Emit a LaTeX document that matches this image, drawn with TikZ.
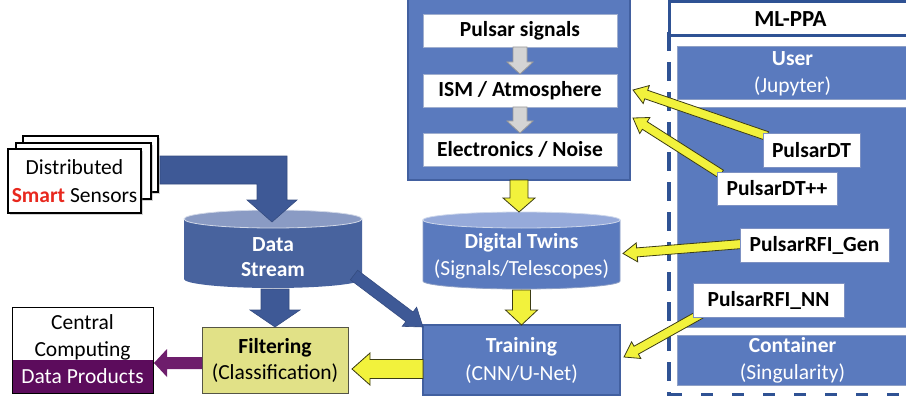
\documentclass[tikz,border=0pt]{standalone}
\usepackage{fontspec}
\setmainfont{Carlito}
\usetikzlibrary{calc,shadows}
\pgfdeclarelayer{conn}
\pgfdeclarelayer{top}
\pgfsetlayers{main,conn,top}

\definecolor{boxblue}{RGB}{90,122,190}
\definecolor{boxedge}{RGB}{66,96,160}
\definecolor{dsbody}{RGB}{72,99,158}
\definecolor{dstop}{RGB}{138,155,196}
\definecolor{dttop}{RGB}{150,170,218}
\definecolor{navyarrow}{RGB}{62,89,150}
\definecolor{arrowyellow}{RGB}{242,242,60}
\definecolor{yellowedge}{RGB}{60,60,20}
\definecolor{filtfill}{RGB}{225,225,135}
\definecolor{filtedge}{RGB}{85,85,70}
\definecolor{dpurple}{RGB}{92,12,92}
\definecolor{arrowpurple}{RGB}{110,30,108}
\definecolor{dashblue}{RGB}{47,82,148}
\definecolor{lbledge}{RGB}{125,145,195}
\definecolor{smartred}{RGB}{232,40,30}

\newcommand{\dfont}{\fontsize{21.5}{27}\selectfont}

% block arrow from #2 to #3: #4 half shaft width, #5 half head width, #6 head length
\newcommand{\blockarrow}[6]{%
  \path[#1] let \p1=($(#3)-(#2)$), \n1={atan2(\y1,\x1)} in
    ($(#2)+({\n1+90}:#4)$)
    -- ($(#3)+({\n1+180}:#6)+({\n1+90}:#4)$)
    -- ($(#3)+({\n1+180}:#6)+({\n1+90}:#5)$)
    -- (#3)
    -- ($(#3)+({\n1+180}:#6)+({\n1-90}:#5)$)
    -- ($(#3)+({\n1+180}:#6)+({\n1-90}:#4)$)
    -- ($(#2)+({\n1-90}:#4)$) -- cycle;}

\begin{document}
\begin{tikzpicture}[x=1pt,y=-1pt,
  every node/.style={font=\dfont, align=center, inner sep=0pt, outer sep=0pt},
  bluebox/.style={draw=boxedge, fill=boxblue, line width=1.2pt, text=white},
  innerbox/.style={draw=boxedge!50!white, fill=white, line width=0.8pt, font=\dfont\bfseries, minimum width=194pt, minimum height=33pt},
  lblbox/.style={draw=lbledge, fill=white, line width=0.8pt, font=\dfont\bfseries, minimum height=34pt},
  sensorbox/.style={draw=black, fill=white, line width=1.2pt, drop shadow={shadow xshift=2pt, shadow yshift=-2pt, opacity=0.35}},
  filtbox/.style={draw=filtedge, fill=filtfill, line width=1pt},
  mlbox/.style={draw=boxedge!60!white, fill=boxblue, line width=1pt, text=white, anchor=north west, minimum width=231pt},
  txtnode/.style={text=white},
  yarrow/.style={fill=arrowyellow, draw=yellowedge, line width=0.8pt, line join=miter},
  garrow/.style={fill=black!17, draw=black!40, line width=0.8pt},
  navy/.style={fill=navyarrow, draw=navyarrow!85!black, line width=0.6pt},
  parrow/.style={fill=arrowpurple},
  dashsty/.style={draw=dashblue, line width=4pt}
]
\useasboundingbox (0,0) rectangle (906,396);

% distributed sensors (stacked sheets)
\node[sensorbox, minimum width=135pt, minimum height=56pt] (sensC) at (90.5,164) {};
\node[sensorbox, minimum width=135pt, minimum height=56pt] (sensB) at (83.5,171) {};
\node[sensorbox, minimum width=133pt, minimum height=64pt, font=\fontsize{21.5}{28}\selectfont] (sensA) at (74.5,181) {Distributed\\\textcolor{smartred}{\textbf{Smart}} Sensors};

% data stream cylinder
\path[fill=dsbody] (184,219) -- (184,279) arc[start angle=180, end angle=360, x radius=89pt, y radius=9pt] -- (362,219) -- cycle;
\path[fill=dstop, draw=white!75!dsbody, line width=0.8pt] (273,219) ellipse[x radius=89pt, y radius=9pt];
\node[txtnode, minimum width=178pt, font=\fontsize{21.5}{25}\selectfont\bfseries] (ds) at (273,257.5) {Data\\Stream};

% sensors feed the data stream
\path[navy] (160,156) -- (287,156) -- (287,200) -- (297,200) -- (272,222) -- (247,200) -- (257,200) -- (257,184) -- (160,184) -- cycle;

% signal simulation chain
\node[bluebox, minimum width=222pt, minimum height=182pt] (pgrp) at (519,89) {};
\node[innerbox] (ps) at (520,30.5) {Pulsar signals};
\node[innerbox] (ism) at (520,90.5) {ISM / Atmosphere};
\node[innerbox] (elec) at (520,149.5) {Electronics / Noise};
\blockarrow{garrow}{ps.south}{ism.north}{7pt}{13pt}{12pt}
\blockarrow{garrow}{ism.south}{elec.north}{7pt}{13pt}{12pt}

% digital twins cylinder
\path[fill=boxblue, draw=boxedge!60!white, line width=0.8pt] (423,220) -- (423,281) arc[start angle=180, end angle=360, x radius=98.5pt, y radius=8pt] -- (620,220) -- cycle;
\path[fill=dttop, draw=white!70!boxblue, line width=0.8pt] (521.5,220) ellipse[x radius=98.5pt, y radius=8pt];
\node[txtnode, minimum width=197pt] (dtw) at (521.5,256.5) {\textbf{Digital Twins}\\(Signals/Telescopes)};

% training and filtering
\node[bluebox, minimum width=197pt, minimum height=70pt, font=\fontsize{21.5}{28}\selectfont] (train) at (521.5,360) {\textbf{Training}\\(CNN/U-Net)};
\node[filtbox, minimum width=146pt, minimum height=66pt, font=\fontsize{21.5}{26}\selectfont] (filt) at (275,360) {\textbf{Filtering}\\(Classification)};

% central computing
\node[draw=black, fill=white, line width=1pt, minimum width=141pt, minimum height=53pt, anchor=north west] (cc) at (12,307) {};
\node (cctext) at (82.5,337.5) {Central\\Computing};
\node[fill=dpurple, text=white, minimum width=141pt, minimum height=33pt] (dp) at (82.5,376.5) {Data Products};
\draw[line width=1pt] (cc.north west) rectangle (dp.south east);

% flow arrows
\coordinate (dtwtop) at (519,212);
\blockarrow{yarrow}{pgrp.south}{dtwtop}{9pt}{16pt}{14pt}
\coordinate (dtwbot) at (521.5,290);
\blockarrow{yarrow}{dtwbot}{train.north}{9pt}{16pt}{15pt}
\coordinate (dsbot) at (275,289);
\blockarrow{navy}{dsbot}{filt.north}{14pt}{25pt}{17pt}
\coordinate (dsside) at (354,275);
\coordinate (trainNW) at ($(train.north west)+(0,2)$);
\blockarrow{navy}{dsside}{trainNW}{6pt}{12pt}{17pt}
\coordinate (trainL) at ($(train.west)+(0,9)$);
\coordinate (filtR) at ($(filt.east)+(4,9)$);
\blockarrow{yarrow}{trainL}{filtR}{9.5pt}{16pt}{18pt}
\coordinate (filtL) at ($(filt.west)+(0,3)$);
\coordinate (ccR) at ($(dp.north east)+(1,3)$);
\blockarrow{parrow}{filtL}{ccR}{6pt}{14pt}{13pt}

% ML-PPA frame
\draw[dashsty, dash pattern=on 19pt off 11pt] (668.5,32) -- (668.5,396);
\draw[dashsty, dash pattern=on 12pt off 19pt] (670,394.5) -- (912,394.5);
\node[draw=dashblue, line width=3pt, fill=white, anchor=north west, minimum width=243pt, minimum height=34.5pt, font=\fontsize{23}{27}\selectfont\bfseries] (mlppa) at (669,1.5) {ML-PPA};
\node[mlbox, minimum height=53pt] (user) at (677,47) {\textbf{User}\\(Jupyter)};
\node[mlbox, minimum height=219pt] (tools) at (677,108) {};
\node[mlbox, minimum height=50pt] (cont) at (677,335) {\textbf{Container}\\(Singularity)};

% tool labels
\begin{pgfonlayer}{top}
\node[lblbox, minimum width=97pt] (pdt) at (811.5,150) {PulsarDT};
\node[lblbox, minimum width=120pt, minimum height=33pt] (pdtpp) at (777,188.5) {PulsarDT++};
\node[lblbox, minimum width=149pt] (rfig) at (814.5,245) {PulsarRFI\_Gen};
\node[lblbox, minimum width=151pt] (rfinn) at (768.5,300) {PulsarRFI\_NN};
\end{pgfonlayer}

% tool connectors
\begin{pgfonlayer}{conn}
\coordinate (a1s) at ($(pdt.north west)+(4,3)$);
\coordinate (a1e) at ($(pgrp.east)+(3,1)$);
\blockarrow{yarrow}{a1s}{a1e}{4.5pt}{9.5pt}{14pt}
\coordinate (a2s) at ($(pdtpp.north west)+(4,2)$);
\coordinate (a2e) at ($(pgrp.east)+(3,29)$);
\blockarrow{yarrow}{a2s}{a2e}{4.5pt}{9.5pt}{14pt}
\coordinate (a3s) at ($(rfig.west)+(2,-1)$);
\coordinate (a3e) at ($(dtw.east)+(3,-3)$);
\blockarrow{yarrow}{a3s}{a3e}{4.5pt}{9.5pt}{14pt}
\coordinate (a4s) at ($(rfinn.south west)+(8,-3)$);
\coordinate (a4e) at ($(train.east)+(4,-3)$);
\blockarrow{yarrow}{a4s}{a4e}{4.5pt}{9.5pt}{14pt}
\end{pgfonlayer}
\end{tikzpicture}
\end{document}
